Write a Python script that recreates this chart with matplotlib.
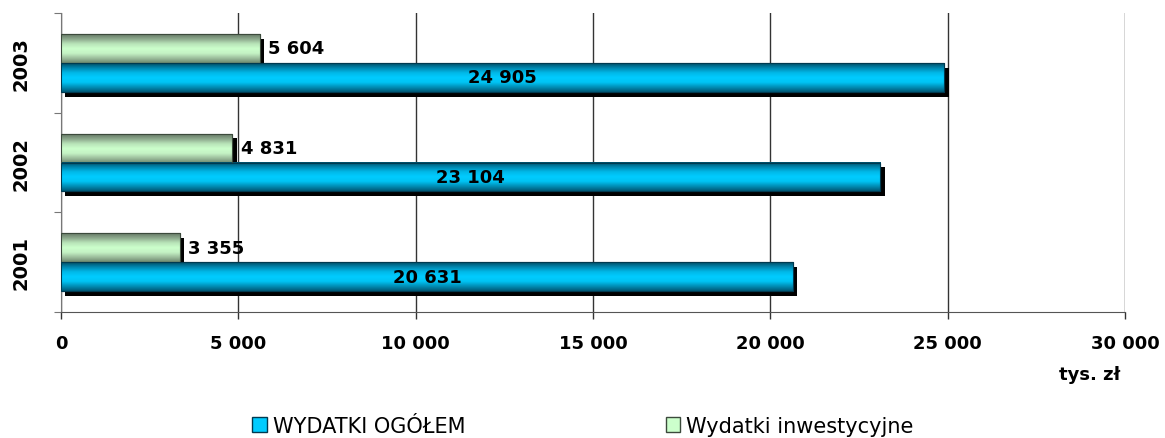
import matplotlib.pyplot as plt
import numpy as np
from matplotlib import patheffects as pe
from matplotlib.colors import LinearSegmentedColormap
from matplotlib.patches import Patch

plt.rcParams['font.family'] = ['DejaVu Sans']

years = ['2001', '2002', '2003']
total = [20631, 23104, 24905]
invest = [3355, 4831, 5604]
xticks = [0, 5000, 10000, 15000, 20000, 25000, 30000]


def fmt(v):
    return f"{v:,}".replace(',', ' ')


blue_cmap = LinearSegmentedColormap.from_list(
    'b', ['#005a78', '#0090b8', '#00c4f4', '#00ccff', '#00b8e8', '#0088b0', '#004e68'])
green_cmap = LinearSegmentedColormap.from_list(
    'g', ['#6f8a6f', '#9ec09e', '#c4f2c4', '#ccffcc', '#b8e4b8', '#8eaa8e', '#667a66'])

fig = plt.figure(figsize=(11.65, 4.39), dpi=100)
ax = fig.add_axes([0.0524, 0.287, 0.9133, 0.681])

y = np.arange(len(years))
h = 0.29
shadow = [pe.SimplePatchShadow(offset=(3, -3.5), shadow_rgbFace='black', alpha=1), pe.Normal()]

gb = ax.barh(y + h / 2, invest, height=h, color='#ccffcc', edgecolor='#3c4a3c',
             linewidth=0.8, zorder=2)
bb = ax.barh(y - h / 2, total, height=h, color='#00ccff', edgecolor='#003a50',
             linewidth=0.8, zorder=2)
for p in list(gb) + list(bb):
    p.set_path_effects(shadow)

grad = np.linspace(0, 1, 64).reshape(-1, 1)
for i in range(len(years)):
    ax.imshow(grad, extent=[0, invest[i], y[i] + h, y[i]], aspect='auto',
              cmap=green_cmap, zorder=3, interpolation='bilinear')
    ax.imshow(grad, extent=[0, total[i], y[i], y[i] - h], aspect='auto',
              cmap=blue_cmap, zorder=3, interpolation='bilinear')
    ax.barh(y[i] + h / 2, invest[i], height=h, fill=False, edgecolor='#3c4a3c',
            linewidth=0.8, zorder=4)
    ax.barh(y[i] - h / 2, total[i], height=h, fill=False, edgecolor='#003a50',
            linewidth=0.8, zorder=4)
    ax.text(invest[i] + 230, y[i] + h / 2, fmt(invest[i]), va='center', ha='left',
            fontsize=13, fontweight='bold', zorder=5)
    ax.text(total[i] / 2, y[i] - h / 2, fmt(total[i]), va='center', ha='center',
            fontsize=13, fontweight='bold', zorder=5)

ax.set_xlim(0, 30000)
ax.set_ylim(-0.5, 2.5)
ax.set_xticks(xticks)
ax.set_xticklabels([fmt(v) for v in xticks], fontsize=13, fontweight='bold')
ax.tick_params(axis='x', length=5, width=1, color='#333333', pad=11)
ax.grid(axis='x', color='#333333', linewidth=1, zorder=0)
ax.set_axisbelow(True)

ax.set_yticks([-0.5, 0.5, 1.5, 2.5])
ax.set_yticklabels([])
ax.set_yticks(y, minor=True)
ax.set_yticklabels(years, minor=True, rotation=90, va='center', fontsize=14,
                   fontweight='bold')
ax.tick_params(axis='y', which='major', length=5, color='#777777')
ax.tick_params(axis='y', which='minor', length=0, pad=22)

for s in ['top', 'right']:
    ax.spines[s].set_visible(False)
ax.spines['left'].set_color('#777777')
ax.spines['bottom'].set_color('#555555')

fig.text(0.9356, 0.146, 'tys. zł', ha='center', va='center', fontsize=13, fontweight='bold')

handles = [Patch(facecolor='#00ccff', edgecolor='#003a50'),
           Patch(facecolor='#ccffcc', edgecolor='#3c4a3c')]
fig.legend(handles, ['WYDATKI OGÓŁEM', 'Wydatki inwestycyjne'], loc='center',
           bbox_to_anchor=(0.5005, 0.028), ncol=2, frameon=False, fontsize=15,
           handlelength=0.7, handleheight=0.7, handletextpad=0.3, columnspacing=9.6)

fig.savefig('out.png', dpi=100)
